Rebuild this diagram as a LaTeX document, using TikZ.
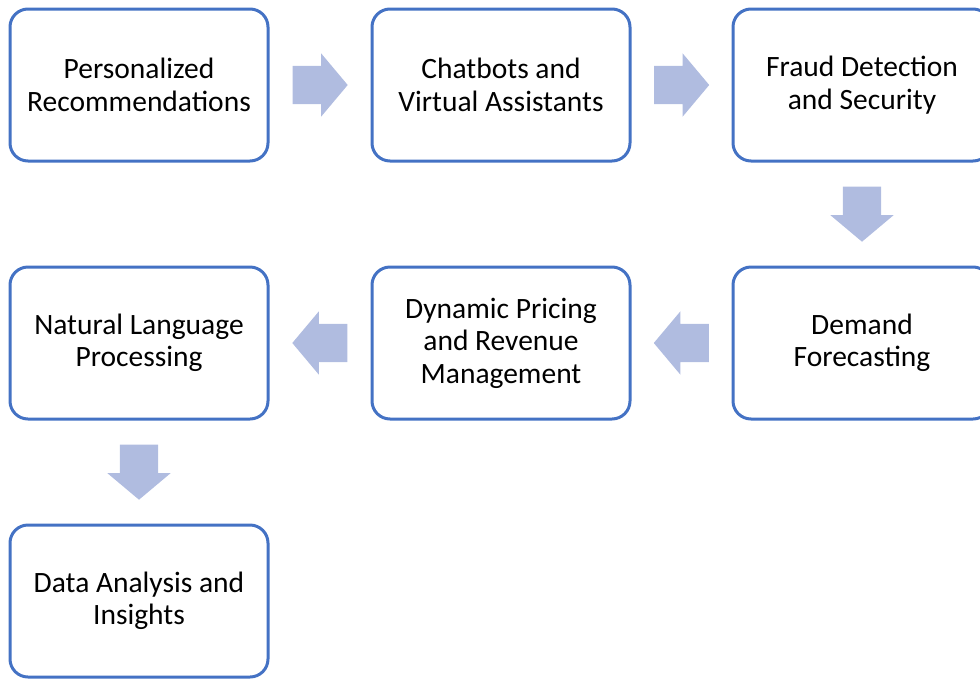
\documentclass[tikz,border=0pt]{standalone}
\usepackage{fontspec}
\setmainfont{Carlito}
\usetikzlibrary{calc, shapes.arrows}

\definecolor{boxblue}{RGB}{68,114,196}
\definecolor{arrowblue}{RGB}{176,188,224}

\begin{document}
\begin{tikzpicture}[x=1pt, y=-1pt,
    stepbox/.style={rectangle, rounded corners=18pt, draw=boxblue, line width=3pt,
        fill=white, minimum width=258pt, minimum height=152pt, inner sep=0pt,
        align=center, font=\fontsize{29.5}{32.5}\selectfont},
    flow/.style={single arrow, fill=arrowblue, draw=none, inner sep=0pt,
        inner ysep=19pt, minimum height=55pt, single arrow head extend=12.5pt,
        single arrow tip angle=100, anchor=tail}]

    % page frame
    \useasboundingbox (0,0) rectangle (980,678);

    % first row
    \node[stepbox] (recs)  at (139,85)  {Personalized\\Recommendations};
    \node[stepbox] (chat)  at (501,85)  {Chatbots and\\Virtual Assistants};
    \node[stepbox] (fraud) at (862,85)  {Fraud Detection\\and Security};

    % second row, runs right to left
    \node[stepbox] (demand)  at (862,343) {Demand\\Forecasting};
    \node[stepbox] (pricing) at (501,343) {Dynamic Pricing\\and Revenue\\Management};
    \node[stepbox] (nlp)     at (139,343) {Natural Language\\Processing};

    % last box
    \node[stepbox] (data) at (139,601) {Data Analysis and\\Insights};

    % block arrows between the steps, tail half a length before the gap's middle
    \node[flow] (a1) at ($(recs.east)!0.5!(chat.west) + (-27.5,0)$) {};
    \node[flow] (a2) at ($(chat.east)!0.5!(fraud.west) + (-27.5,0)$) {};
    \node[flow, rotate=-90] (a3) at ($(fraud.south)!0.5!(demand.north) + (0,-27.5)$) {};
    \node[flow, rotate=180] (a4) at ($(demand.west)!0.5!(pricing.east) + (27.5,0)$) {};
    \node[flow, rotate=180] (a5) at ($(pricing.west)!0.5!(nlp.east) + (27.5,0)$) {};
    \node[flow, rotate=-90] (a6) at ($(nlp.south)!0.5!(data.north) + (0,-27.5)$) {};

\end{tikzpicture}
\end{document}
